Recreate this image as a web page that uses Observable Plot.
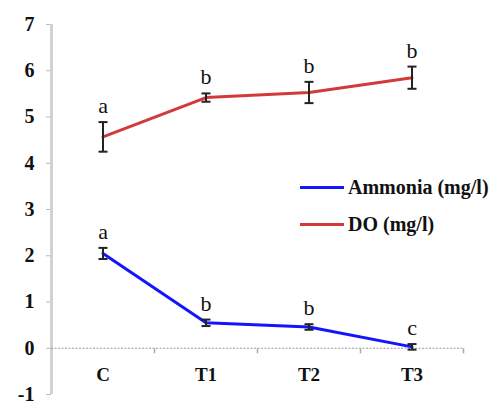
<!DOCTYPE html>
<html>
<head>
<meta charset="utf-8">
<script src="https://cdn.jsdelivr.net/npm/d3@7"></script>
<script src="https://cdn.jsdelivr.net/npm/@observablehq/plot@0.6"></script>
<style>
  html, body { margin: 0; padding: 0; background: #fff; }
  #wrap { position: relative; width: 500px; height: 401px; }
  #legend { position: absolute; left: 300px; top: 175px; font-family: "Liberation Serif", "Times New Roman", serif; font-weight: bold; font-size: 20px; color: #111; }
  .row { display: flex; align-items: center; height: 24px; margin-bottom: 13px; }
  .sw { width: 44px; height: 3px; margin-right: 4px; }
</style>
</head>
<body>
<div id="wrap"></div>
<script>
const categories = ["C", "T1", "T2", "T3"];
const doMean = [4.57, 5.42, 5.53, 5.85];
const doErr = [0.32, 0.09, 0.23, 0.24];
const doLetters = ["a", "b", "b", "b"];
const nh3Mean = [2.05, 0.55, 0.46, 0.03];
const nh3Err = [0.12, 0.07, 0.06, 0.06];
const nh3Letters = ["a", "b", "b", "c"];
const yTicks = [-1, 0, 1, 2, 3, 4, 5, 6, 7];
const seriesNames = ["Ammonia (mg/l)", "DO (mg/l)"];
const seriesColors = ["#1414ff", "#d23a3a"];

const build = (means, errs, letters) => categories.map((c, i) => ({
  i, cat: c, mean: means[i], lo: means[i] - errs[i], hi: means[i] + errs[i], letter: letters[i]
}));
const doData = build(doMean, doErr, doLetters);
const nhData = build(nh3Mean, nh3Err, nh3Letters);
const all = [...doData, ...nhData];
const bounds = categories.map((c, i) => i + 0.5);

const hcap = { draw(ctx, size) { ctx.moveTo(-4.5, 0); ctx.lineTo(4.5, 0); } };
const vtick = { draw(ctx, size) { ctx.moveTo(0, 0); ctx.lineTo(0, 5); } };

const chart = Plot.plot({
  width: 500,
  height: 401,
  marginLeft: 51,
  marginRight: 37,
  marginTop: 24,
  marginBottom: 7,
  style: { fontFamily: "Liberation Serif", color: "#111", background: "#fff" },
  x: { type: "linear", domain: [-0.5, categories.length - 0.5], axis: null },
  y: { domain: [-1, 7] },
  marks: [
    Plot.axisY({ ticks: yTicks, tickSize: 5, tickPadding: 12, fontSize: 20, fontWeight: "bold", stroke: "#bbb", tickFormat: d => String(d) }),
    Plot.ruleX([-0.5], { stroke: "#d2d2d2", strokeWidth: 3 }),
    Plot.ruleY([0], { x1: -0.5, x2: categories.length - 0.5, stroke: "#999", strokeDasharray: "2,1.5" }),
    Plot.dot(bounds, { x: d => d, y: 0, symbol: vtick, stroke: "#aaa", r: 3 }),
    Plot.text(categories, { x: (d, i) => i, y: 0, dy: 27, text: d => d, fontSize: 19, fontWeight: "bold" }),
    Plot.line(nhData, { x: "i", y: "mean", stroke: seriesColors[0], strokeWidth: 3 }),
    Plot.line(doData, { x: "i", y: "mean", stroke: seriesColors[1], strokeWidth: 3 }),
    Plot.ruleX(all, { x: "i", y1: "lo", y2: "hi", stroke: "#222", strokeWidth: 2 }),
    Plot.dot(all, { x: "i", y: "lo", symbol: hcap, stroke: "#222", strokeWidth: 2, r: 3 }),
    Plot.dot(all, { x: "i", y: "hi", symbol: hcap, stroke: "#222", strokeWidth: 2, r: 3 }),
    Plot.text(all, { x: "i", y: "hi", text: "letter", dy: -9, lineAnchor: "bottom", fontSize: 22 })
  ]
});

const wrap = document.getElementById("wrap");
wrap.appendChild(chart);
const legend = document.createElement("div");
legend.id = "legend";
legend.innerHTML = seriesNames.map((n, k) =>
  `<div class="row"><div class="sw" style="background:${seriesColors[k]}"></div><span>${n}</span></div>`
).join("");
wrap.appendChild(legend);
</script>
</body>
</html>
